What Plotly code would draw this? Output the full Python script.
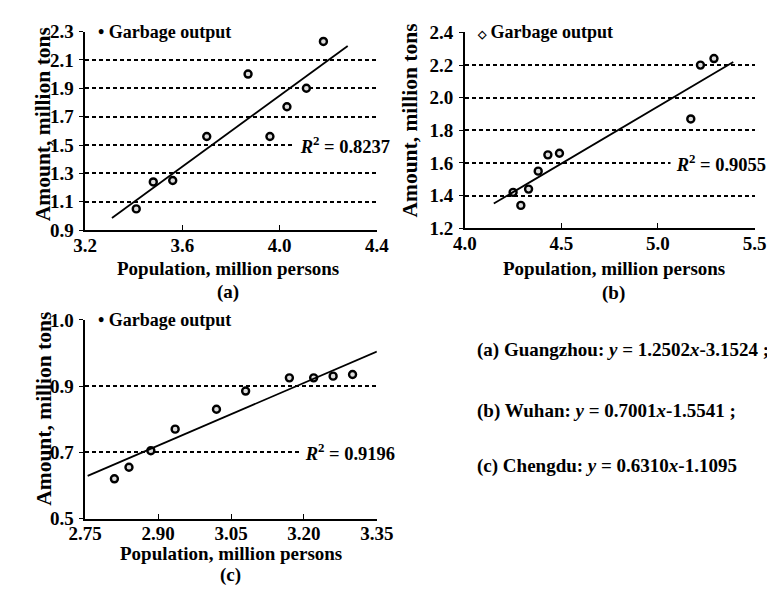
import plotly.graph_objects as go

# ---------------- data ----------------
# (a) Guangzhou
pop_a = [3.41, 3.48, 3.56, 3.70, 3.87, 3.96, 4.03, 4.11, 4.18]
gar_a = [1.05, 1.24, 1.25, 1.56, 2.00, 1.56, 1.77, 1.90, 2.23]
# (b) Wuhan
pop_b = [4.25, 4.29, 4.33, 4.38, 4.43, 4.49, 5.17, 5.22, 5.29]
gar_b = [1.42, 1.34, 1.44, 1.55, 1.65, 1.66, 1.87, 2.20, 2.24]
# (c) Chengdu
pop_c = [2.81, 2.84, 2.885, 2.935, 3.02, 3.08, 3.17, 3.22, 3.26, 3.30]
gar_c = [0.62, 0.655, 0.705, 0.77, 0.83, 0.885, 0.925, 0.925, 0.93, 0.935]

# regression lines  y = slope * x + intercept
slopes = [1.2502, 0.7001, 0.6310]
intercepts = [-3.1524, -1.5541, -1.1095]
fit_x = [[3.31, 4.28], [4.15, 5.39], [2.755, 3.35]]
r2 = ["0.8237", "0.9055", "0.9196"]
cities = ["Guangzhou", "Wuhan", "Chengdu"]

# axis ticks
xt_a = [3.2, 3.6, 4.0, 4.4]
xl_a = ["3.2", "3.6", "4.0", "4.4"]
yt_a = [0.9, 1.1, 1.3, 1.5, 1.7, 1.9, 2.1, 2.3]
yl_a = ["0.9", "1.1", "1.3", "1.5", "1.7", "1.9", "2.1", "2.3"]
xt_b = [4.0, 4.5, 5.0, 5.5]
xl_b = ["4.0", "4.5", "5.0", "5.5"]
yt_b = [1.2, 1.4, 1.6, 1.8, 2.0, 2.2, 2.4]
yl_b = ["1.2", "1.4", "1.6", "1.8", "2.0", "2.2", "2.4"]
xt_c = [2.75, 2.90, 3.05, 3.20, 3.35]
xl_c = ["2.75", "2.90", "3.05", "3.20", "3.35"]
yt_c = [0.5, 0.7, 0.9, 1.1]
yl_c = ["0.5", "0.7", "0.9", "1.0"]

FONT = "'Liberation Serif', 'Times New Roman', Times, serif"
W, H = 775, 591


def px(x):
    return x / W


def py(y):
    return 1 - y / H


fig = go.Figure()

panels = [
    dict(x=pop_a, y=gar_a, xa="x", ya="y"),
    dict(x=pop_b, y=gar_b, xa="x2", ya="y2"),
    dict(x=pop_c, y=gar_c, xa="x3", ya="y3"),
]

for i, p in enumerate(panels):
    fig.add_trace(go.Scatter(
        x=p["x"], y=p["y"], mode="markers", xaxis=p["xa"], yaxis=p["ya"],
        marker=dict(symbol="circle", size=7, color="#dddddd",
                    line=dict(color="black", width=2.4)),
        name="Garbage output", showlegend=False, cliponaxis=False))
    xs = fit_x[i]
    ys = [slopes[i] * v + intercepts[i] for v in xs]
    fig.add_trace(go.Scatter(
        x=xs, y=ys, mode="lines", xaxis=p["xa"], yaxis=p["ya"],
        line=dict(color="black", width=1.8), showlegend=False, cliponaxis=False))

TICKFONT = dict(size=19, family=FONT, color="black", weight="bold")
xcommon = dict(showline=True, linecolor="black", linewidth=1.6, ticks="inside",
               ticklen=5, tickwidth=1.4, tickcolor="black", showgrid=False,
               zeroline=False, tickfont=TICKFONT, ticklabelstandoff=-3)
ycommon = dict(showline=True, linecolor="black", linewidth=1.6, ticks="outside",
               ticklen=4, tickwidth=1.4, tickcolor="black", showgrid=True,
               gridcolor="black", gridwidth=1.8, griddash="4px,3px",
               zeroline=False, tickfont=TICKFONT, ticklabelstandoff=2)

fig.update_layout(
    width=W, height=H, margin=dict(l=0, r=0, t=0, b=0),
    paper_bgcolor="white", plot_bgcolor="white", showlegend=False,
    font=dict(family=FONT, size=19, color="black"),
    xaxis=dict(domain=[px(63), px(368)], range=[3.2, 4.4], tickvals=xt_a,
               ticktext=xl_a, anchor="y", **xcommon),
    yaxis=dict(domain=[py(220), py(14)], range=[0.9, 2.3], tickvals=yt_a,
               ticktext=yl_a, anchor="x", **ycommon),
    xaxis2=dict(domain=[px(460), px(763)], range=[4.0, 5.5], tickvals=xt_b,
                ticktext=xl_b, anchor="y2", **xcommon),
    yaxis2=dict(domain=[py(218), py(15)], range=[1.2, 2.4], tickvals=yt_b,
                ticktext=yl_b, anchor="x2", **ycommon),
    xaxis3=dict(domain=[px(63), px(368)], range=[2.75, 3.35], tickvals=xt_c,
                ticktext=xl_c, anchor="y3", **xcommon),
    yaxis3=dict(domain=[py(519), py(313)], range=[0.5, 1.1], tickvals=yt_c,
                ticktext=yl_c, anchor="x3", **ycommon),
)

ann = []


def text(x, y, s, size=19, xanchor="center", yanchor="middle", angle=0, bg=None,
         xref="paper", yref="paper", weight="bold"):
    d = dict(x=x, y=y, xref=xref, yref=yref, text=s, showarrow=False,
             xanchor=xanchor, yanchor=yanchor, textangle=angle,
             font=dict(family=FONT, size=size, color="black", weight=weight))
    if bg:
        d.update(bgcolor=bg, borderpad=1)
    ann.append(d)


# axis titles and panel labels
titles = [  # (x-title center x, x-title y, label y, y-title x, y-title center y)
    (212, 260, 284, 19, 110),
    (616, 260, 285, 403, 106),
    (215, 555, 578, 19, 405),
]
for i, (cx, ty, ly, yx, yy) in enumerate(titles):
    text(px(cx), py(ty), "Population, million persons", size=19)
    text(px(cx), py(ly), "(" + "abc"[i] + ")", size=19)
    text(px(yx), py(yy), "Amount, million tons", size=21.5, angle=-90)

# legends (marker glyph + label), white box hides the top grid line
text(px(65), py(14), "\u00a0\u00a0\u2022 Garbage output\u00a0", size=18, xanchor="left", bg="white")
text(px(462), py(15), "\u00a0\u00a0<span style='font-size:11px'>\u25c7</span> Garbage output", size=18, xanchor="left", bg="white")
text(px(65), py(313), "\u00a0\u00a0\u2022 Garbage output\u00a0", size=18, xanchor="left", bg="white")

# R^2
r2_pos = [(4.06, 1.5, "x", "y"), (5.06, 1.6, "x2", "y2"), (3.19, 0.7, "x3", "y3")]
for i, (x, y, xr, yr) in enumerate(r2_pos):
    text(x, y, "\u00a0<i>R</i><sup>2</sup> = " + r2[i] + "\u00a0", size=18.5,
         xanchor="left", bg="white", xref=xr, yref=yr)

# equations
eq_y = [344, 407, 464]
for i in range(3):
    s = "(" + "abc"[i] + ") " + cities[i] + ": <i>y</i> = " + f"{slopes[i]:.4f}" + \
        "<i>x</i>" + f"{intercepts[i]:.4f}" + (" ;" if i < 2 else "")
    text(px(471), py(eq_y[i]), s, size=19, xanchor="left")

fig.update_layout(annotations=ann)
fig.write_html("out.html")
